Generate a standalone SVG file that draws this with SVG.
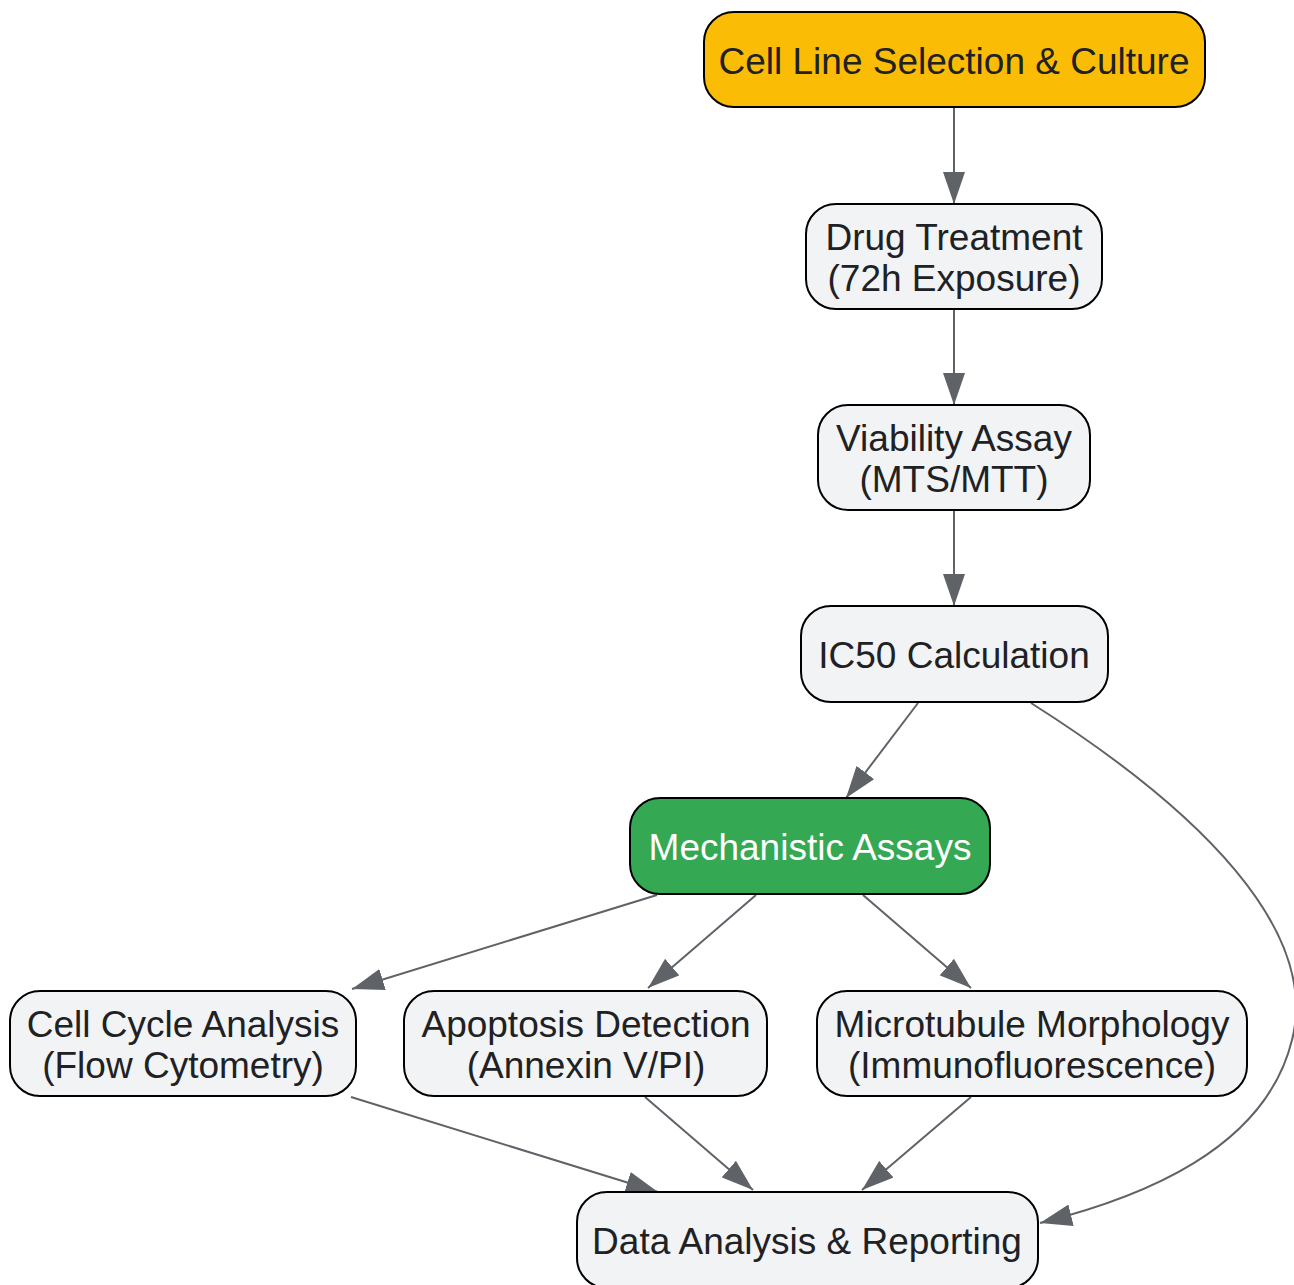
<svg xmlns="http://www.w3.org/2000/svg" width="1294" height="1285" viewBox="0 0 1294 1285">
<style>
.n{fill:#F1F3F4;stroke:#000;stroke-width:2}
.t{font-family:"Liberation Sans",Arial,sans-serif;font-size:37px;fill:#202124;text-anchor:middle}
.e{fill:none;stroke:#5F6368;stroke-width:2}
</style>
<defs>
<marker id="a" markerUnits="userSpaceOnUse" markerWidth="32" markerHeight="22" refX="32" refY="11" orient="auto">
<path d="M0,0 L32,11 L0,22 Z" fill="#5F6368"/>
</marker>
</defs>
<rect width="1294" height="1285" fill="#fff"/>
<g id="connectors">
<path class="e" d="M954,107 L954,204" marker-end="url(#a)"/>
<path class="e" d="M954,309 L954,405" marker-end="url(#a)"/>
<path class="e" d="M954,510 L954,606" marker-end="url(#a)"/>
<path class="e" d="M918,703 L846,798" marker-end="url(#a)"/>
<path class="e" d="M1031,703 C1200,810 1320,930 1292,1040 C1265,1150 1140,1198 1040,1223" marker-end="url(#a)"/>
<path class="e" d="M657,895 L352,989" marker-end="url(#a)"/>
<path class="e" d="M756,895 L648,988" marker-end="url(#a)"/>
<path class="e" d="M863,895 L971,988" marker-end="url(#a)"/>
<path class="e" d="M351,1097 L658,1192" marker-end="url(#a)"/>
<path class="e" d="M645,1097 L753,1190" marker-end="url(#a)"/>
<path class="e" d="M971,1097 L862,1190" marker-end="url(#a)"/>
</g>
<g id="n1"><rect x="704" y="12" width="501" height="95" rx="30" fill="#FBBC05" stroke="#000" stroke-width="2"/><text class="t" x="954" y="74">Cell Line Selection &amp; Culture</text></g>
<g id="n2"><rect class="n" x="806" y="204" width="296" height="105" rx="30"/><text class="t" x="954" y="250">Drug Treatment</text><text class="t" x="954" y="291">(72h Exposure)</text></g>
<g id="n3"><rect class="n" x="818" y="405" width="272" height="105" rx="30"/><text class="t" x="954" y="451">Viability Assay</text><text class="t" x="954" y="492">(MTS/MTT)</text></g>
<g id="n4"><rect class="n" x="801" y="606" width="307" height="96" rx="30"/><text class="t" x="954" y="668">IC50 Calculation</text></g>
<g id="n5"><rect x="630" y="798" width="360" height="96" rx="30" fill="#34A853" stroke="#000" stroke-width="2"/><text class="t" x="810" y="860" style="fill:#fff">Mechanistic Assays</text></g>
<g id="n6"><rect class="n" x="10" y="991" width="346" height="105" rx="30"/><text class="t" x="183" y="1037">Cell Cycle Analysis</text><text class="t" x="183" y="1078">(Flow Cytometry)</text></g>
<g id="n7"><rect class="n" x="404" y="991" width="363" height="105" rx="30"/><text class="t" x="586" y="1037">Apoptosis Detection</text><text class="t" x="586" y="1078">(Annexin V/PI)</text></g>
<g id="n8"><rect class="n" x="817" y="991" width="430" height="105" rx="30"/><text class="t" x="1032" y="1037">Microtubule Morphology</text><text class="t" x="1032" y="1078">(Immunofluorescence)</text></g>
<g id="n9"><rect class="n" x="577" y="1192" width="461" height="96" rx="30"/><text class="t" x="807" y="1254">Data Analysis &amp; Reporting</text></g>
</svg>
